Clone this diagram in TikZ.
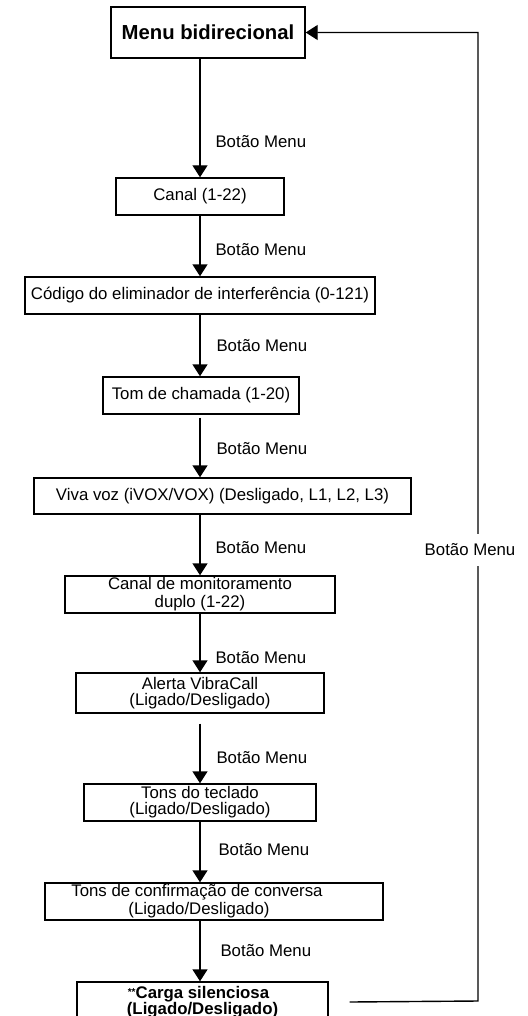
\documentclass[tikz,border=0pt]{standalone}
\usepackage{fontspec}
\setmainfont{Liberation Sans}
\usetikzlibrary{arrows.meta}

\begin{document}
\begin{tikzpicture}[x=1pt, y=-1pt,
    box/.style={draw, line width=1.4pt, inner sep=0pt, align=center, font=\fontsize{16.8}{16}\selectfont},
    arr/.style={line width=1.4pt, -{Triangle[width=15pt,length=12pt]}},
    lbl/.style={anchor=west, font=\fontsize{16.8}{16}\selectfont}
]
\useasboundingbox (0,0) rectangle (527,1016);
\coordinate (eixo) at (200,0);

\node[box, font=\fontsize{20.3}{22}\selectfont\bfseries, minimum width=194pt, minimum height=51pt] (menu) at (208,32.5) {Menu bidirecional};
\node[box, minimum width=168pt, minimum height=37pt] (canal) at (200,196.5) {Canal (1-22)};
\node[box, minimum width=350pt, minimum height=37pt] (codigo) at (200,295.5) {Código do eliminador de interferência (0-121)};
\node[box, minimum width=196pt, minimum height=37pt] (tom) at (201,395.5) {Tom de chamada (1-20)};
\node[box, minimum width=377pt, minimum height=36pt] (viva) at (222.5,496) {Viva voz (iVOX/VOX) (Desligado, L1, L2, L3)};
\node[box, minimum width=270pt, minimum height=37pt, font=\fontsize{16.8}{18}\selectfont] (monitor) at (200,594.5) {Canal de monitoramento\\duplo (1-22)};
\node[box, minimum width=248pt, minimum height=40pt, font=\fontsize{16.8}{15.5}\selectfont] (alerta) at (200,693) {Alerta VibraCall\\(Ligado/Desligado)};
\node[box, minimum width=232pt, minimum height=37pt] (teclado) at (200,802.5) {Tons do teclado\\(Ligado/Desligado)};
\node[box, minimum width=338pt, minimum height=37pt, font=\fontsize{16.8}{18}\selectfont] (confirma) at (214,901.5) {Tons de confirmação de conversa\hspace*{34pt}\\(Ligado/Desligado)\hspace*{30pt}};
\node[box, minimum width=251pt, minimum height=40pt, font=\fontsize{16.8}{16}\selectfont\bfseries] (carga) at (202.5,1002) {\raisebox{3pt}{\fontsize{10}{10}\selectfont **}Carga silenciosa\hspace*{8pt}\\(Ligado/Desligado)};

\draw[arr] (menu.south -| eixo) -- (canal.north -| eixo);
\node[lbl] (lbla) at (212,142) {Botão Menu};
\draw[arr] (canal.south -| eixo) -- (codigo.north -| eixo);
\node[lbl] (lblb) at (212,250) {Botão Menu};
\draw[arr] (codigo.south -| eixo) -- (tom.north -| eixo);
\node[lbl] (lblc) at (213,346) {Botão Menu};
\draw[arr, shorten <=3pt] (tom.south -| eixo) -- (viva.north -| eixo);
\node[lbl] (lbld) at (213,449) {Botão Menu};
\draw[arr] (viva.south -| eixo) -- (monitor.north -| eixo);
\node[lbl] (lble) at (212,548) {Botão Menu};
\draw[arr] (monitor.south -| eixo) -- (alerta.north -| eixo);
\node[lbl] (lblf) at (212,658) {Botão Menu};
\draw[arr, shorten <=10pt] (alerta.south -| eixo) -- (teclado.north -| eixo);
\node[lbl] (lblg) at (213,758) {Botão Menu};
\draw[arr] (teclado.south -| eixo) -- (confirma.north -| eixo);
\node[lbl] (lblh) at (215,850) {Botão Menu};
\draw[arr] (confirma.south -| eixo) -- (carga.north -| eixo);
\node[lbl] (lbli) at (217,951) {Botão Menu};

\coordinate (retorno) at (478,1001);
\draw[arr] ([xshift=21pt]carga.east) -- (retorno) -- (retorno |- menu.east) -- (menu.east);
\node[lbl, anchor=center, fill=white, inner ysep=10pt] (lblvolta) at (470,550) {Botão Menu};
\end{tikzpicture}
\end{document}
